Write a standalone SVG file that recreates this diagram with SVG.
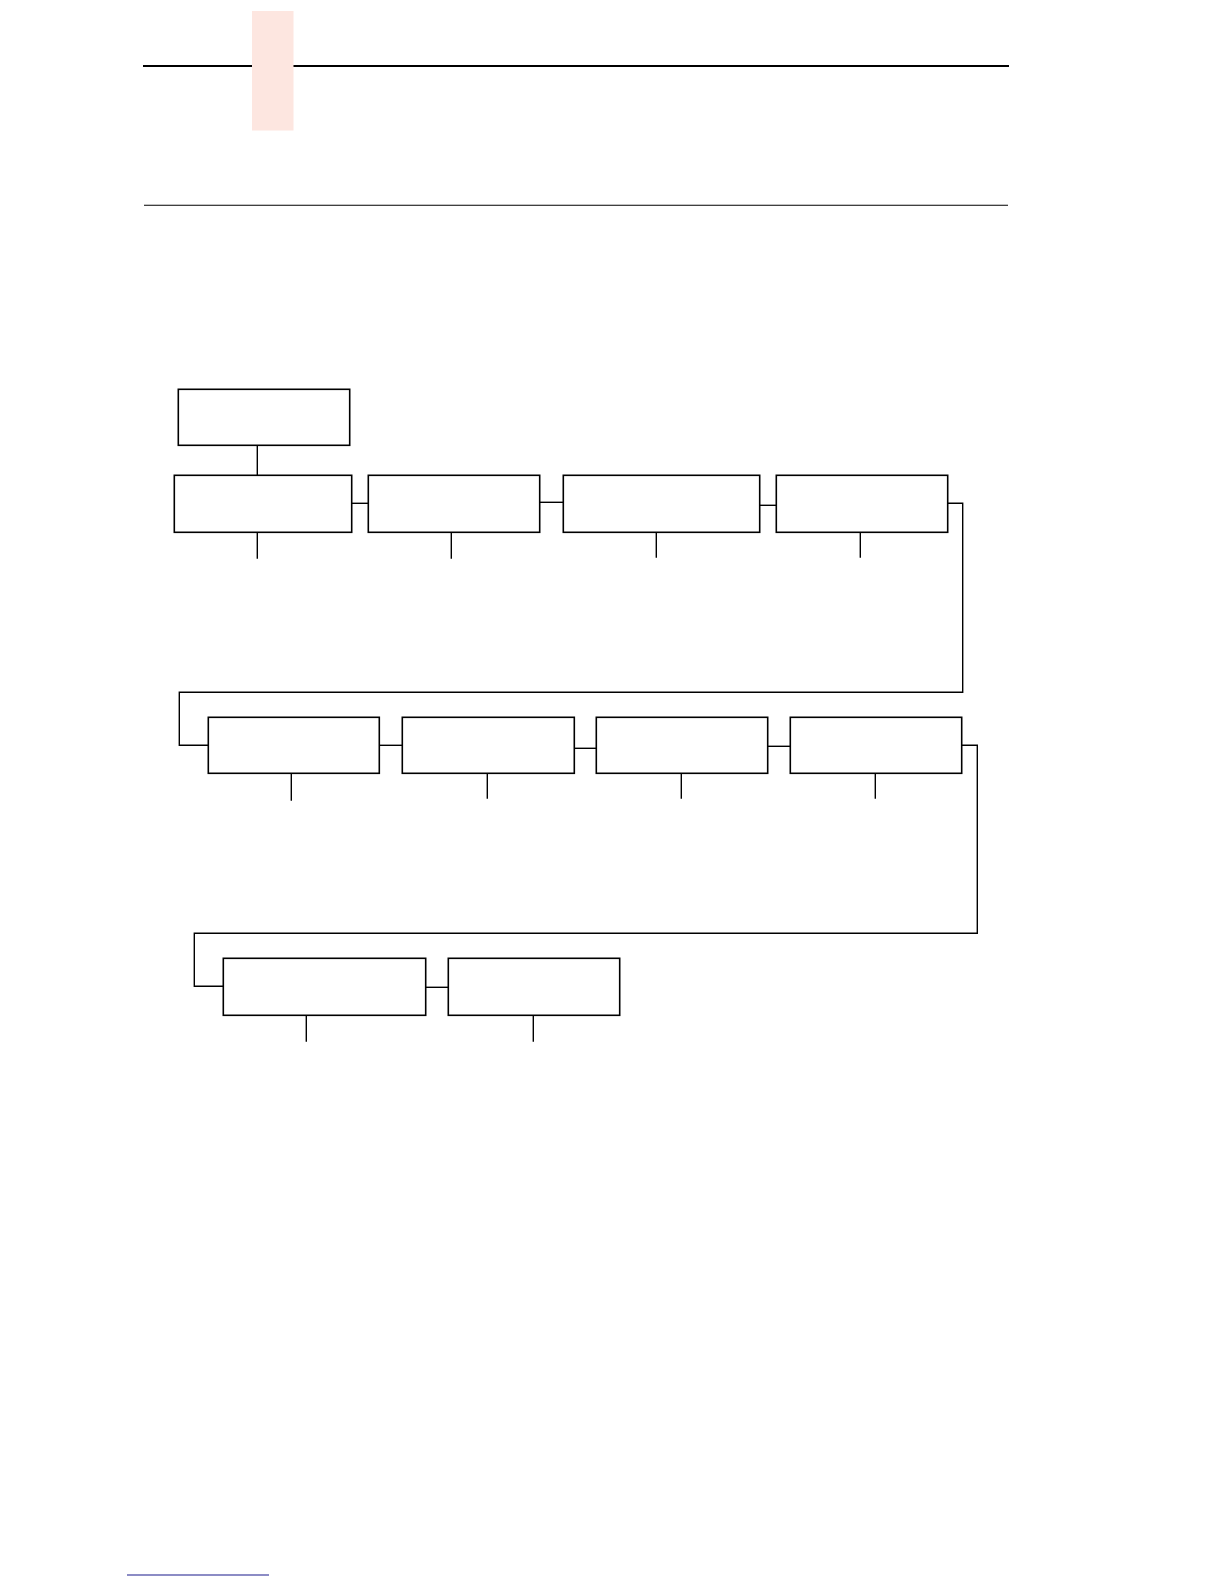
<svg xmlns="http://www.w3.org/2000/svg" width="1224" height="1584" viewBox="0 0 1224 1584">
<style>
.box{fill:#fff;stroke:#000;stroke-width:1.6}
.c{fill:none;stroke:#000;stroke-width:1.4}
</style>
<rect width="1224" height="1584" fill="#fff"/>
<g id="header">
<line x1="143" y1="66" x2="1009" y2="66" stroke="#000" stroke-width="2.2"/>
<rect x="252" y="11" width="41.5" height="119.5" fill="#fde6e0"/>
<line x1="144" y1="205.3" x2="1008" y2="205.3" stroke="#000" stroke-width="1.1"/>
<line x1="127" y1="1575" x2="269" y2="1575" stroke="#1a1a8c" stroke-width="1.2"/>
</g>
<g id="connectors">
<path class="c" d="M257.3 445.3V475.3"/>
<path class="c" d="M351.7 503.3H368.3"/>
<path class="c" d="M539.7 502.3H563.3"/>
<path class="c" d="M759.7 505.3H777.7"/>
<path class="c" d="M947.7 503.3H962.7V692.3H179.3V745.3H208.3"/>
<path class="c" d="M379.3 745.3H403.7"/>
<path class="c" d="M574.3 748.3H597.7"/>
<path class="c" d="M767.7 746.3H792.7"/>
<path class="c" d="M961.7 745.3H977.3V933.3H194.3V986.3H223.3"/>
<path class="c" d="M425.7 987.3H448.3"/>
<path class="c" d="M257.3 532.3V558.7M451.3 532.3V558.7M656.3 532.3V557.7M860.3 532.3V557.7"/>
<path class="c" d="M291.3 773.3V800.7M487.3 773.3V798.7M681.3 773.3V798.7M875.3 773.3V798.7"/>
<path class="c" d="M306.3 1015.3V1041.7M533.3 1015.3V1041.7"/>
</g>
<g id="node-root"><rect class="box" x="178.3" y="389.3" width="171.4" height="56"/></g>
<g id="node-r1-1"><rect class="box" x="174.3" y="475.3" width="177.4" height="57"/></g>
<g id="node-r1-2"><rect class="box" x="368.3" y="475.3" width="171.4" height="57"/></g>
<g id="node-r1-3"><rect class="box" x="563.3" y="475.3" width="196.4" height="57"/></g>
<g id="node-r1-4"><rect class="box" x="776.3" y="475.3" width="171.4" height="57"/></g>
<g id="node-r2-1"><rect class="box" x="208.3" y="717.3" width="171" height="56"/></g>
<g id="node-r2-2"><rect class="box" x="402.3" y="717.3" width="172" height="56"/></g>
<g id="node-r2-3"><rect class="box" x="596.3" y="717.3" width="171.4" height="56"/></g>
<g id="node-r2-4"><rect class="box" x="790.3" y="717.3" width="171.4" height="56"/></g>
<g id="node-r3-1"><rect class="box" x="223.3" y="958.3" width="202.4" height="57"/></g>
<g id="node-r3-2"><rect class="box" x="448.3" y="958.3" width="171.4" height="57"/></g>
</svg>
